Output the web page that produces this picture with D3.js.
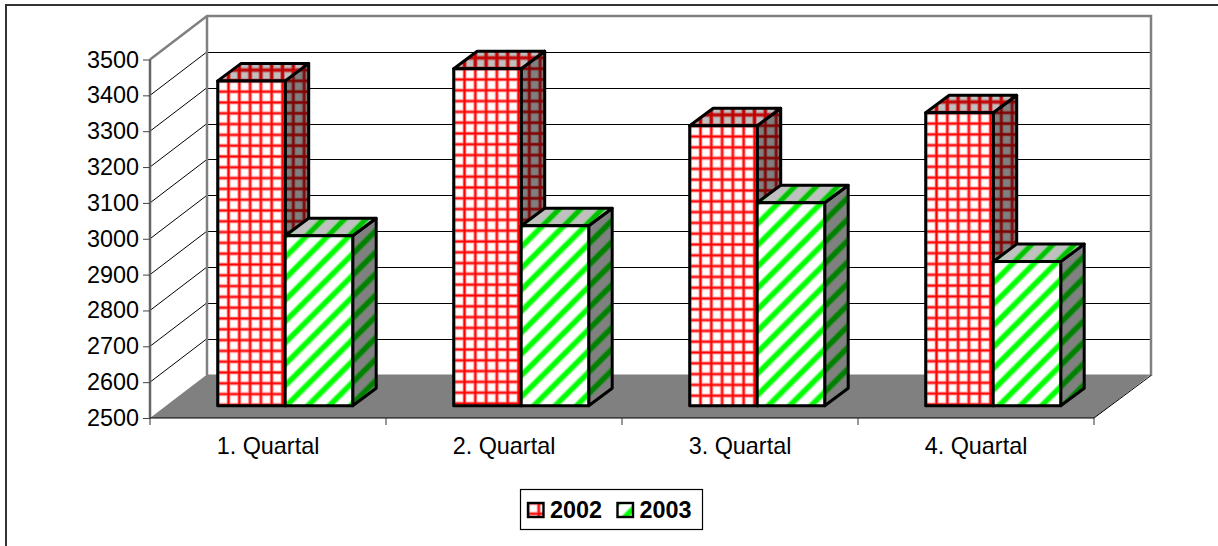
<!DOCTYPE html>
<html>
<head>
<meta charset="utf-8">
<script src="https://cdn.jsdelivr.net/npm/d3@7"></script>
<style>
  body { margin: 0; background: #fff; }
  svg { display: block; }
  text { font-family: "Liberation Sans", Arial, sans-serif; fill: #000; }
</style>
</head>
<body>
<script>
var quarters = ["1. Quartal", "2. Quartal", "3. Quartal", "4. Quartal"];
var years = ["2002", "2003"];
var values2002 = [3406, 3440, 3281, 3317];
var values2003 = [2974, 3002, 3066, 2902];
var yTicks = [2500, 2600, 2700, 2800, 2900, 3000, 3100, 3200, 3300, 3400, 3500];

var width = 1218,
    height = 546;

var svg = d3.select("body").append("svg")
            .attr("width", width)
            .attr("height", height);

var defs = svg.append("defs");

// hatch tiles: lattice for 2002, diagonal stripes for 2003
// a soft halo under each line, the original was a scaled bitmap
function lattice(id, bg, halo, line, lineWidth) {
  var p = defs.append("pattern")
              .attr("id", id)
              .attr("patternUnits", "userSpaceOnUse")
              .attr("patternTransform", "translate(5.4,5.4)")
              .attr("width", 10.8)
              .attr("height", 10.8);
  p.append("rect").attr("width", 10.8).attr("height", 10.8).attr("fill", bg);
  p.append("path")
   .attr("d", "M5.4 0V10.8M0 5.4H10.8")
   .attr("stroke", halo)
   .attr("stroke-width", lineWidth + 1.8)
   .attr("fill", "none");
  p.append("path")
   .attr("d", "M5.4 0V10.8M0 5.4H10.8")
   .attr("stroke", line)
   .attr("stroke-width", lineWidth)
   .attr("fill", "none");
}

function stripes(id, bg, halo, line) {
  var s = 21.4;
  var p = defs.append("pattern")
              .attr("id", id)
              .attr("patternUnits", "userSpaceOnUse")
              .attr("width", s)
              .attr("height", s);
  var d = "M-5 " + (s + 5) + "L" + (s + 5) + " -5M-5 5L5 -5M" + (s - 5) + " " + (s + 5) + "L" + (s + 5) + " " + (s - 5);
  p.append("rect").attr("width", s).attr("height", s).attr("fill", bg);
  p.append("path").attr("d", d).attr("stroke", halo).attr("stroke-width", 6.8).attr("fill", "none");
  p.append("path").attr("d", d).attr("stroke", line).attr("stroke-width", 4.6).attr("fill", "none");
}

lattice("red-front", "#ffffff", "#ffa8a8", "#ff0000", 2.1);
lattice("red-top", "#c0c0c0", "#c06060", "#c00000", 2.6);
lattice("red-side", "#808080", "#803838", "#800000", 1.8);
stripes("green-front", "#ffffff", "#90ff90", "#00ff00");
stripes("green-top", "#c0c0c0", "#70d870", "#00c000");
stripes("green-side", "#808080", "#408840", "#008000");

// front plane of the box
var x = d3.scaleBand()
          .domain(quarters)
          .range([150, 1094]);

var y = d3.scaleLinear()
          .domain([2500, 3500])
          .range([418, 59.5]);

var depthX = 57,
    depthY = 43.5;

// back wall
svg.append("rect")
   .attr("x", 6)
   .attr("y", 5)
   .attr("width", width + 10)
   .attr("height", height + 10)
   .attr("fill", "#fff")
   .attr("stroke", "#333")
   .attr("stroke-width", 2);

svg.append("path")
   .attr("d", d3.line()([[150, 418], [207, 374.5], [1151, 374.5], [1094, 418]]))
   .attr("fill", "#808080");

var grid = svg.append("g");

grid.selectAll("line.back")
    .data(yTicks.slice(1, -1))
    .enter()
    .append("line")
    .attr("class", "back")
    .attr("x1", 150 + depthX)
    .attr("x2", 150 + depthX + 944)
    .attr("y1", function(d) { return Math.round(y(d) - depthY) + 0.5; })
    .attr("y2", function(d) { return Math.round(y(d) - depthY) + 0.5; })
    .attr("stroke", "#000")
    .attr("shape-rendering", "crispEdges");

grid.selectAll("line.side")
    .data(yTicks.slice(1, -1))
    .enter()
    .append("line")
    .attr("class", "side")
    .attr("x1", 150)
    .attr("x2", 150 + depthX)
    .attr("y1", function(d) { return y(d); })
    .attr("y2", function(d) { return y(d) - depthY; })
    .attr("stroke", "#000")
    .attr("stroke-width", 1);

// wall edges
svg.append("path")
   .attr("d", d3.line()([[150, y(3500)], [207, y(3500) - depthY], [1151, y(3500) - depthY], [1151, 376]]))
   .attr("fill", "none")
   .attr("stroke", "#808080")
   .attr("stroke-width", 2.5);

svg.append("line")
   .attr("x1", 207)
   .attr("x2", 207)
   .attr("y1", y(3500) - depthY)
   .attr("y2", 375)
   .attr("stroke", "#808080")
   .attr("stroke-width", 2.5);

svg.append("line")
   .attr("x1", 1094)
   .attr("x2", 1151)
   .attr("y1", 418)
   .attr("y2", 375.5)
   .attr("stroke", "#000")
   .attr("stroke-width", 1);

// bars
var clusterWidth = 135,
    barDepthX = 23.5,
    barDepthY = 17.5,
    floorX = 17.2,
    floorY = 12.3;

var x1 = d3.scaleBand()
           .domain(years)
           .range([0, clusterWidth]);

function drawBar(quarter, year, value, hatch) {
  var left = x(quarter) + (x.bandwidth() - clusterWidth) / 2 + floorX + x1(year),
      top = y(value) - floorY,
      w = x1.bandwidth(),
      h = y(2500) - y(value);

  var bar = svg.append("g")
               .attr("transform", "translate(" + left + "," + top + ")")
               .attr("stroke", "#000")
               .attr("stroke-width", 3)
               .attr("stroke-linejoin", "round");

  bar.append("path")
     .attr("d", d3.line()([[w, 0], [w + barDepthX, -barDepthY], [w + barDepthX, h - barDepthY], [w, h]]) + "Z")
     .attr("fill", "url(#" + hatch + "-side)");

  bar.append("path")
     .attr("d", d3.line()([[0, 0], [barDepthX, -barDepthY], [w + barDepthX, -barDepthY], [w, 0]]) + "Z")
     .attr("fill", "url(#" + hatch + "-top)");

  bar.append("rect")
     .attr("width", w)
     .attr("height", h)
     .attr("fill", "url(#" + hatch + "-front)");
}

quarters.forEach(function(q, i) {
  drawBar(q, years[0], values2002[i], "red");
  drawBar(q, years[1], values2003[i], "green");
});

// axes
var yAxis = svg.append("g")
               .attr("transform", "translate(150,0)")
               .call(d3.axisLeft(y).tickValues(yTicks).tickFormat(d3.format("d")).tickSize(7).tickPadding(4));

yAxis.selectAll("text").style("font-size", "23.4px");
yAxis.selectAll("line").attr("stroke", "#444").attr("stroke-width", 1);
yAxis.select(".domain").attr("stroke", "#666").attr("stroke-width", 2.5).attr("d", "M0," + y(3500) + "V418");

var xAxis = svg.append("g")
               .attr("transform", "translate(0,418)")
               .call(d3.axisBottom(x).tickSize(0).tickPadding(19));

xAxis.selectAll("text").style("font-size", "23.4px");
xAxis.select(".domain").attr("stroke", "#000").attr("stroke-width", 1.2).attr("d", "M150,0H1094");

xAxis.selectAll("line.sep")
     .data(d3.range(quarters.length + 1))
     .enter()
     .append("line")
     .attr("class", "sep")
     .attr("x1", function(d) { return 150 + d * x.step(); })
     .attr("x2", function(d) { return 150 + d * x.step(); })
     .attr("y1", 0)
     .attr("y2", 7)
     .attr("stroke", "#333");

// legend
var legend = svg.append("g");

legend.append("rect")
      .attr("x", 520.5)
      .attr("y", 489.5)
      .attr("width", 182)
      .attr("height", 40)
      .attr("fill", "#fff")
      .attr("stroke", "#000")
      .attr("stroke-width", 1.2);

var legendX = [528, 617.5],
    hatchNames = ["red", "green"];

years.forEach(function(yr, i) {
  var item = legend.append("g")
                   .attr("transform", "translate(" + legendX[i] + ",503)");

  item.append("rect")
      .attr("width", 15.5)
      .attr("height", 14)
      .attr("fill", "url(#" + hatchNames[i] + "-front)")
      .attr("stroke", "#000")
      .attr("stroke-width", 2.4);

  item.append("text")
      .attr("x", 22)
      .attr("y", 15)
      .style("font-size", "23.4px")
      .style("font-weight", "bold")
      .text(yr);
});
</script>
</body>
</html>
